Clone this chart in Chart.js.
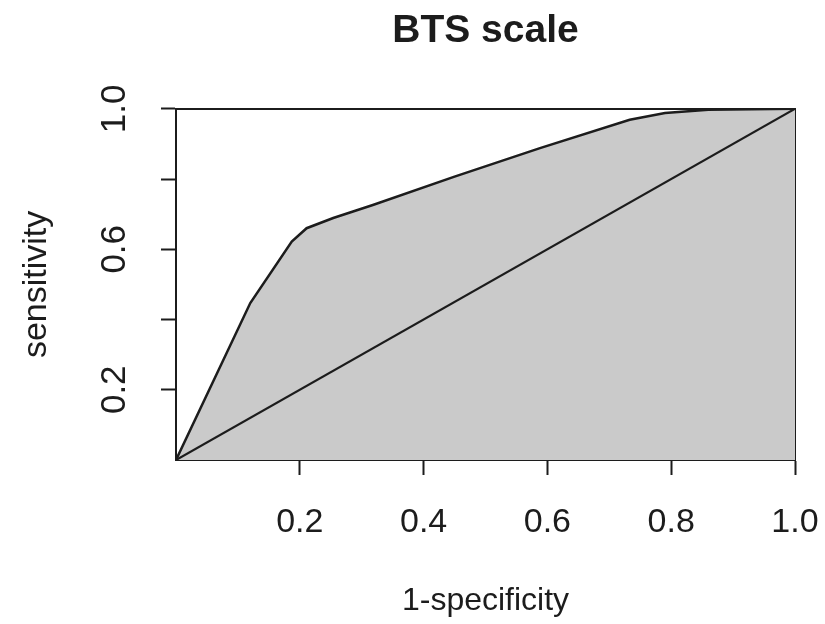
<!DOCTYPE html>
<html>
<head>
<meta charset="utf-8">
<script src="https://cdn.jsdelivr.net/npm/chart.js@4.4.0/dist/chart.umd.min.js"></script>
<style>
  html, body { margin: 0; padding: 0; background: #ffffff; }
  #wrap { width: 825px; height: 624px; }
</style>
</head>
<body>
<div id="wrap"><canvas id="c" width="825" height="624"></canvas></div>
<script>
// ROC curve for BTS scale
const fpr = [0, 0.12, 0.187, 0.211, 0.254, 0.318, 0.45, 0.588, 0.733, 0.79, 0.86, 1];
const tpr = [0, 0.447, 0.622, 0.66, 0.689, 0.726, 0.807, 0.888, 0.969, 0.988, 0.997, 1];
// chance diagonal
const diagX = [0, 1];
const diagY = [0, 1];
// tick positions and labels
const xTicks = [0.2, 0.4, 0.6, 0.8, 1.0];
const yTicks = [0.2, 0.4, 0.6, 0.8, 1.0];
const yTickLabels = ['0.2', '', '0.6', '', '1.0'];

const FONT = "'Liberation Sans', Arial, Helvetica, sans-serif";
const INK = '#1c1c1c';

const rocPts = fpr.map((v, i) => ({ x: v, y: tpr[i] }));
const diagPts = diagX.map((v, i) => ({ x: v, y: diagY[i] }));

new Chart(document.getElementById('c'), {
  type: 'line',
  data: {
    datasets: [
      {
        label: 'chance',
        data: diagPts,
        borderColor: INK,
        borderWidth: 2.2,
        pointRadius: 0,
        fill: false,
        tension: 0
      },
      {
        label: 'ROC',
        data: rocPts,
        borderColor: INK,
        borderWidth: 2.5,
        backgroundColor: '#cacaca',
        pointRadius: 0,
        fill: 'start',
        tension: 0
      }
    ]
  },
  options: {
    responsive: false,
    animation: false,
    devicePixelRatio: 1,
    layout: { padding: { top: 0, left: 0, right: 30, bottom: 0 } },
    plugins: {
      legend: { display: false },
      tooltip: { enabled: false },
      title: {
        display: true,
        text: 'BTS scale',
        fullSize: false,
        color: INK,
        font: { family: FONT, size: 39, weight: 'bold', lineHeight: 1.2 },
        padding: { top: 8, bottom: 54 }
      }
    },
    scales: {
      x: {
        type: 'linear',
        position: 'bottom',
        min: 0,
        max: 1,
        afterBuildTicks: (s) => { s.ticks = xTicks.map(v => ({ value: v })); },
        afterFit: (s) => { s.height = 164; s.paddingLeft = 0; s.paddingRight = 0; },
        ticks: {
          autoSkip: false,
          maxRotation: 0,
          minRotation: 0,
          padding: 27,
          color: INK,
          font: { family: FONT, size: 34, lineHeight: 1.2 },
          callback: (v) => Number(v).toFixed(1)
        },
        grid: {
          drawOnChartArea: false,
          drawTicks: true,
          tickLength: 15,
          tickWidth: 2,
          tickColor: INK
        },
        border: { display: true, color: INK, width: 2 },
        title: {
          display: true,
          text: '1-specificity',
          color: INK,
          font: { family: FONT, size: 32, lineHeight: 1.2 },
          padding: { top: 0, bottom: 4 }
        }
      },
      y: {
        type: 'linear',
        position: 'left',
        min: 0,
        max: 1,
        afterBuildTicks: (s) => { s.ticks = yTicks.map(v => ({ value: v })); },
        afterFit: (s) => { s.width = 176; },
        ticks: {
          autoSkip: false,
          minRotation: 90,
          maxRotation: 90,
          crossAlign: 'center',
          padding: 21,
          color: INK,
          font: { family: FONT, size: 35, lineHeight: 1.2 },
          callback: (v) => {
            const i = yTicks.findIndex(t => Math.abs(t - v) < 1e-9);
            return i >= 0 ? yTickLabels[i] : '';
          }
        },
        grid: {
          drawOnChartArea: false,
          drawTicks: true,
          tickLength: 15,
          tickWidth: 2,
          tickColor: INK
        },
        border: { display: true, color: INK, width: 2 },
        title: {
          display: true,
          text: 'sensitivity',
          color: INK,
          font: { family: FONT, size: 34, lineHeight: 1.2 },
          padding: { top: 16, bottom: 0 }
        }
      },
      x2: {
        type: 'linear',
        position: 'top',
        min: 0,
        max: 1,
        afterFit: (s) => { s.height = 0; s.paddingLeft = 0; s.paddingRight = 0; },
        ticks: { display: false },
        grid: { display: true, drawOnChartArea: false, drawTicks: false },
        border: { display: true, color: INK, width: 2 }
      },
      y2: {
        type: 'linear',
        position: 'right',
        min: 0,
        max: 1,
        afterFit: (s) => { s.width = 0; },
        ticks: { display: false },
        grid: { display: true, drawOnChartArea: false, drawTicks: false },
        border: { display: true, color: INK, width: 2 }
      }
    }
  }
});
</script>
</body>
</html>
